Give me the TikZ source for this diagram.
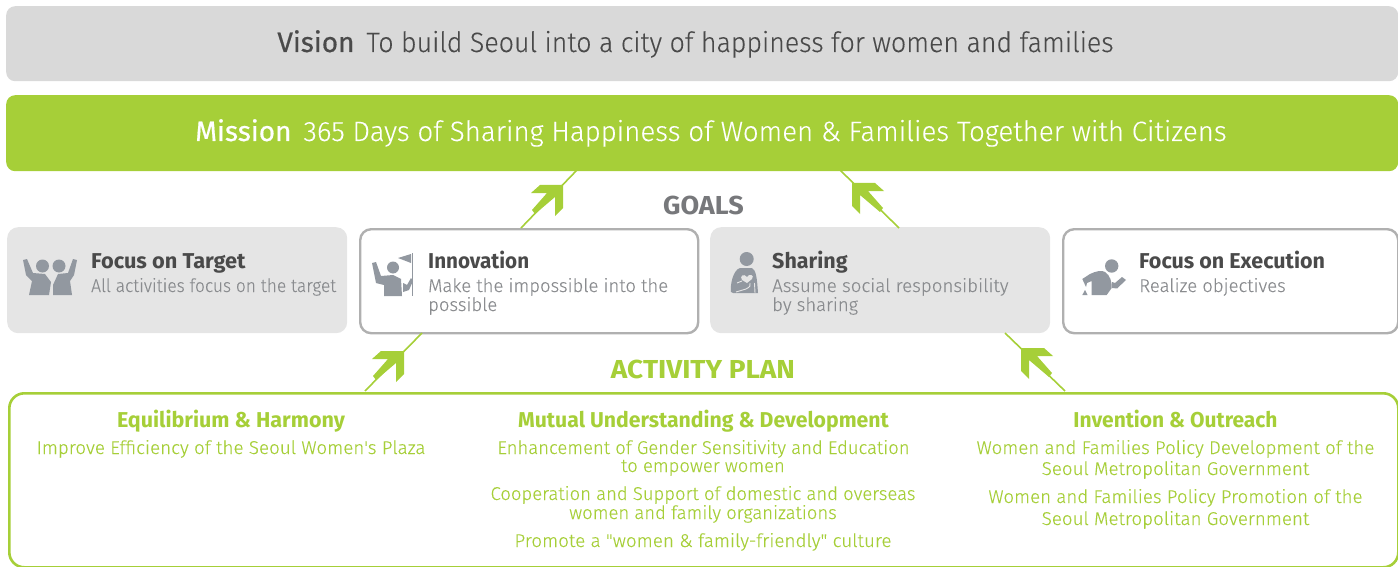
\documentclass[tikz,border=0pt]{standalone}
\usepackage{graphicx}
\usepackage{fontspec}
\setmainfont{Fira Sans}
\newfontfamily\lightfont[FakeBold=0.12]{Fira Sans Light}
\newfontfamily\midfont[FakeBold=0.5]{Fira Sans}
\definecolor{lime}{HTML}{A6CF38}
\definecolor{bar}{HTML}{D9D9D9}
\definecolor{soft}{HTML}{E5E5E5}
\definecolor{edge}{HTML}{B0B0B0}
\definecolor{ink}{HTML}{4A4A4A}
\definecolor{mid}{HTML}{77787B}
\definecolor{sub}{HTML}{8A8C8F}
\definecolor{icon}{HTML}{9298A0}
\newcommand{\xs}[2]{\scalebox{#1}[1]{#2}}
\tikzset{
  x=1pt,y=-1pt,
  banner/.style={rounded corners=9pt,anchor=north west,inner sep=0pt,minimum height=#1,minimum width=1392pt},
  softbox/.style={fill=soft,rounded corners=11pt,minimum width=340pt,minimum height=106pt,inner sep=0pt,anchor=north west},
  linebox/.style={draw=edge,line width=2.4pt,fill=white,rounded corners=11pt,minimum height=104pt,inner sep=0pt,anchor=north west},
  ttl/.style={anchor=base west,inner sep=0pt,text=ink,font=\fontsize{21.5}{24}\selectfont\bfseries},
  subt/.style={anchor=base west,inner sep=0pt,text=sub,font=\lightfont\fontsize{18.5}{20}\selectfont},
  banner text/.style={anchor=base,inner sep=0pt,font=\lightfont\fontsize{28}{32}\selectfont},
  head/.style={anchor=base,inner sep=0pt,text=lime,font=\fontsize{21.5}{24}\selectfont\bfseries},
  body/.style={anchor=base,inner sep=0pt,text=lime,font=\lightfont\fontsize{18.5}{20}\selectfont},
  link/.style={draw=lime,line width=1.6pt},
  tipfill/.style={fill=lime,draw=none},
  person/.style={fill=icon,draw=none}
}
\newcommand{\tipR}[2]{\fill[tipfill,shift={(#1,#2)}] (0,0) -- (-23,0) -- (-32,8) -- (-16,8) -- (-31,25) -- (-28,29) -- (-8,12) -- (-8,31) -- (0,23) -- cycle;}
\newcommand{\tipL}[2]{\fill[tipfill,shift={(#1,#2)}] (0,0) -- (23,0) -- (32,8) -- (16,8) -- (31,25) -- (28,29) -- (8,12) -- (8,31) -- (0,23) -- cycle;}
\begin{document}
\begin{tikzpicture}
\useasboundingbox (0,0) rectangle (1398,567);
% banners
\node[banner=75pt,fill=bar] (vision) at (6,6) {};
\node[banner=76pt,fill=lime] (mission) at (6,95) {};
\node[banner text,text=ink] (visiontxt) at (695.5,52) {{\midfont\fontsize{28}{32}\selectfont Vision}\hspace{12pt}\xs{0.956}{To build Seoul into a city of happiness for women and families}};
\node[banner text,text=white] (missiontxt) at (711,141) {{\midfont\fontsize{28}{32}\selectfont Mission}\hspace{12pt}\xs{0.988}{365 Days of Sharing Happiness of Women \& Families Together with Citizens}};
% goal boxes
\node[softbox] (target) at (7,227) {};
\node[linebox,minimum width=338pt] (innov) at (359,228) {};
\node[softbox] (sharing) at (710,227) {};
\node[linebox,minimum width=335pt] (exec) at (1062,228) {};
% plan box
\node[draw=lime,line width=2.6pt,fill=white,rounded corners=15pt,minimum width=1389pt,minimum height=174pt,inner sep=0pt,anchor=north west] (plan) at (8,392) {};
% connectors
\coordinate (a1s) at (365,391); \coordinate (a1e) at (422,333);
\coordinate (a2s) at (521,228); \coordinate (a2e) at (577,170);
\coordinate (a3s) at (899,228); \coordinate (a3e) at (840,170);
\coordinate (a4s) at (1065,391); \coordinate (a4e) at (1005,333);
\draw[link] (a1s) -- (a1e);
\draw[link] (a2s) -- (a2e);
\draw[link] (a3s) -- (a3e);
\draw[link] (a4s) -- (a4e);
\tipR{404}{351}
\tipR{563}{185}
\tipL{852}{183}
\tipL{1021}{348}
% headings
\node[anchor=base,inner sep=0pt,text=mid,font=\fontsize{26}{28}\selectfont\bfseries] (goals) at (703.5,214) {\xs{1.04}{GOALS}};
\node[anchor=base,inner sep=0pt,text=lime,font=\fontsize{26}{28}\selectfont\bfseries] (plantitle) at (703,378) {\xs{1.076}{ACTIVITY PLAN}};
% goal text
\node[ttl] (t1) at (91,268) {\xs{1.013}{Focus on Target}};
\node[subt] (s1) at (91,292) {\xs{0.94}{All activities focus on the target}};
\node[ttl] (t2) at (428,268) {\xs{0.96}{Innovation}};
\node[subt] (s2) at (428,292) {Make the impossible into the};
\node[subt] (s2b) at (428,311) {possible};
\node[ttl] (t3) at (772,268) {Sharing};
\node[subt] (s3) at (772,292) {\xs{1.013}{Assume social responsibility}};
\node[subt] (s3b) at (772,311) {by sharing};
\node[ttl] (t4) at (1139,268) {Focus on Execution};
\node[subt] (s4) at (1139,292) {Realize objectives};
% plan text
\node[head] (h1) at (231,427) {Equilibrium \& Harmony};
\node[body] (b1) at (231,454) {\xs{1.018}{Improve Efficiency of the Seoul Women's Plaza}};
\node[head] (h2) at (703.5,427) {\xs{0.987}{Mutual Understanding \& Development}};
\node[body] (b2) at (703.5,454) {Enhancement of Gender Sensitivity and Education};
\node[body] (b2b) at (703,472) {to empower women};
\node[body] (b3) at (703,500) {Cooperation and Support of domestic and overseas};
\node[body] (b3b) at (703,519) {women and family organizations};
\node[body] (b4) at (703,547) {\xs{1.02}{Promote a "women \& family-friendly" culture}};
\node[head] (h3) at (1175.5,427) {\xs{0.976}{Invention \& Outreach}};
\node[body] (b5) at (1175.5,454) {\xs{1.013}{Women and Families Policy Development of the}};
\node[body] (b5b) at (1175.5,475) {\xs{1.015}{Seoul Metropolitan Government}};
\node[body] (b6) at (1175.5,503) {\xs{1.013}{Women and Families Policy Promotion of the}};
\node[body] (b6b) at (1175.5,525) {\xs{1.015}{Seoul Metropolitan Government}};
% icon: two people
\fill[person] (42.5,266) circle (6.5);
\fill[person] (59,266) circle (6.5);
\fill[person] (23,260) -- (27,259) -- (33,273) -- (45,274) -- (51,282) -- (49,295) -- (29,295) -- (32,281) -- (26,275) -- cycle;
\fill[person] (77,260) -- (73,259) -- (68,273) -- (58,274) -- (53,285) -- (53,295) -- (72,295) -- (70,281) -- (74,275) -- cycle;
% icon: flag
\fill[person] (393,267.5) circle (6);
\fill[person] (372,263) -- (376,262) -- (381,276) -- (393,275) -- (401,279) -- (402,296) -- (384,296) -- (384,285) -- (376,283) -- cycle;
\fill[person] (398,258) -- (411,254) -- (411,263) -- cycle;
\fill[person] (403,292) -- (403,283) -- (407,285) -- (411,278) -- (413,281) -- (409,290) -- cycle;
\fill[person] (411.7,253) rectangle (412.5,296);
% icon: heart bearer
\fill[person] (746.7,259) circle (7);
\fill[person] (731,292) .. controls (730,285) and (733,270) .. (740,268) -- (752,268) .. controls (756,270) and (757,278) .. (758,293) -- (733,293) -- cycle;
\fill[soft] (747,277) .. controls (744,273) and (739,276) .. (742,280) -- (747,283) -- (752,279) .. controls (755,275) and (749,273) .. (747,277) -- cycle;
\draw[soft,line width=.9pt] (736,292) -- (746,289) .. controls (750,287) and (751,285) .. (750,283);
\draw[soft,line width=.9pt] (737,283) -- (742,281);
\draw[soft,line width=.9pt] (754.5,283) -- (755,293);
% icon: runner
\fill[person] (1111.7,266) circle (6.7);
\fill[person] (1082.3,279) -- (1090,274) .. controls (1096,271) and (1102,270) .. (1105,272) .. controls (1110,275) and (1112,282) .. (1111.7,288) -- (1106.7,295) -- (1091.7,295) -- (1091.7,281) -- (1087,283) -- (1086,287) -- cycle;
\fill[person] (1082.3,295) -- (1085,290) -- (1087.5,295) -- cycle;
\fill[person] (1112,282) -- (1115,283) -- (1122,277) -- (1126,280) -- (1117,288.5) -- (1112,288) -- cycle;
\end{tikzpicture}
\end{document}
